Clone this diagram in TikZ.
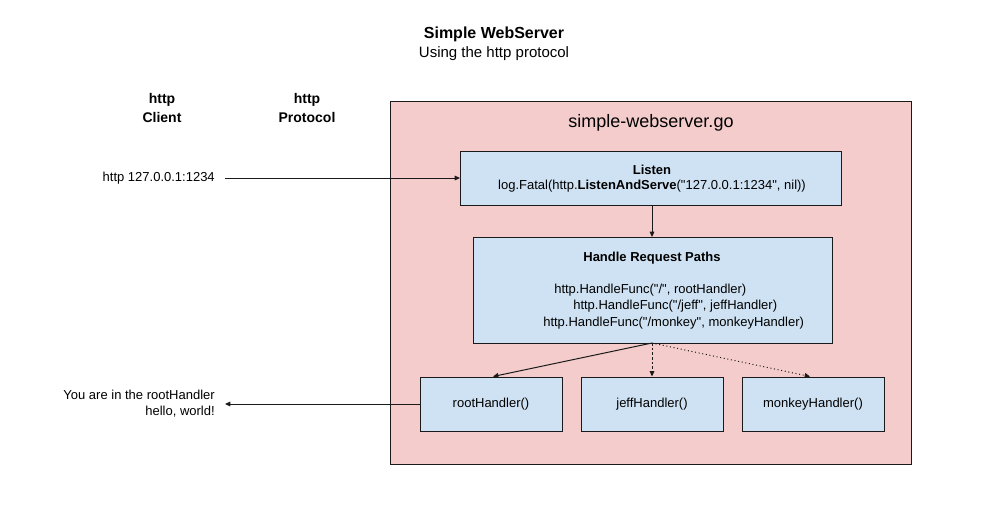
\documentclass[tikz,border=0pt]{standalone}
\usepackage{fontspec}
\setmainfont{Liberation Sans}[Ligatures=TeXOff]
\usetikzlibrary{arrows.meta}
\definecolor{pinkfill}{HTML}{F4CCCC}
\definecolor{bluefill}{HTML}{CFE2F3}
\definecolor{edge}{HTML}{1A1A1A}
\begin{document}
\begin{tikzpicture}[x=0.75pt,y=-0.75pt,
  txt/.style={font=\fontsize{9.75pt}{12pt}\selectfont, inner sep=0pt},
  boxstyle/.style={draw=edge, line width=0.75pt, fill=bluefill},
  arr/.style={draw=edge, line width=0.75pt, -{Triangle[length=4pt,width=3.5pt]}},
  hdr/.style={font=\fontsize{10.5pt}{14pt}\selectfont\bfseries, align=center, inner sep=0pt}]
\useasboundingbox (0,0) rectangle (988,511);
% titles
\node[inner sep=0pt, font=\fontsize{12pt}{14pt}\selectfont\bfseries] (title) at (494,34) {Simple WebServer};
\node[inner sep=0pt, font=\fontsize{11.25pt}{14pt}\selectfont] (subtitle) at (494,54) {Using the http protocol};
\node[hdr] (client) at (162,108) {http\\Client};
\node[hdr] (proto) at (307,108) {http\\Protocol};
% container
\draw[fill=pinkfill, draw=edge, line width=0.75pt] (390,101) rectangle (911,464);
\node[inner sep=0pt, font=\fontsize{13.5pt}{16pt}\selectfont] (file) at (651,123) {simple-webserver.go};
% listen box
\draw[boxstyle] (460,151) rectangle (841,205);
\node[txt, font=\fontsize{9.75pt}{12pt}\selectfont\bfseries] (listenT) at (652,170) {Listen};
\node[txt] (listenC) at (652,186) {log.Fatal(http.\textbf{ListenAndServe}("127.0.0.1:1234", nil))};
\coordinate (listenW) at (460,178);
\coordinate (listenS) at (652,205);
% handle box
\draw[boxstyle] (473,237) rectangle (832,343);
\coordinate (handleN) at (652,237);
\coordinate (handleS) at (652,343);
\node[txt, font=\fontsize{9.75pt}{12pt}\selectfont\bfseries] (handleT) at (652,258) {Handle Request Paths};
\node[txt, anchor=west] (h1) at (554,290) {http.HandleFunc("/", rootHandler)};
\node[txt, anchor=west] (h2) at (573,306) {http.HandleFunc("/jeff", jeffHandler)};
\node[txt, anchor=west] (h3) at (543,323) {http.HandleFunc("/monkey", monkeyHandler)};
% handlers
\node[boxstyle, txt, minimum width=142*0.75pt, minimum height=54*0.75pt] (root) at (491,404) {rootHandler()};
\node[boxstyle, txt, minimum width=142*0.75pt, minimum height=54*0.75pt] (jeff) at (652,404) {jeffHandler()};
\node[boxstyle, txt, minimum width=142*0.75pt, minimum height=54*0.75pt] (monkey) at (813,404) {monkeyHandler()};
% left texts
\node[txt, anchor=east] (req) at (215,178) {http 127.0.0.1:1234};
\node[txt, anchor=east, align=right] (resp) at (215,404) {You are in the rootHandler\\hello, world!};
\coordinate (reqE) at (225,178);
\coordinate (respE) at (225,404);
% connectors
\draw[arr] (reqE) -- (listenW);
\draw[arr] (listenS) -- (handleN);
\draw[arr] (handleS) -- ([xshift=2*0.75pt]root.north);
\draw[arr, dashed, dash pattern=on 2pt off 1.5pt] (handleS) -- (jeff.north);
\draw[arr, dotted] (handleS) -- ([xshift=-3*0.75pt]monkey.north);
\draw[arr] (root.west) -- (respE);
\end{tikzpicture}
\end{document}
